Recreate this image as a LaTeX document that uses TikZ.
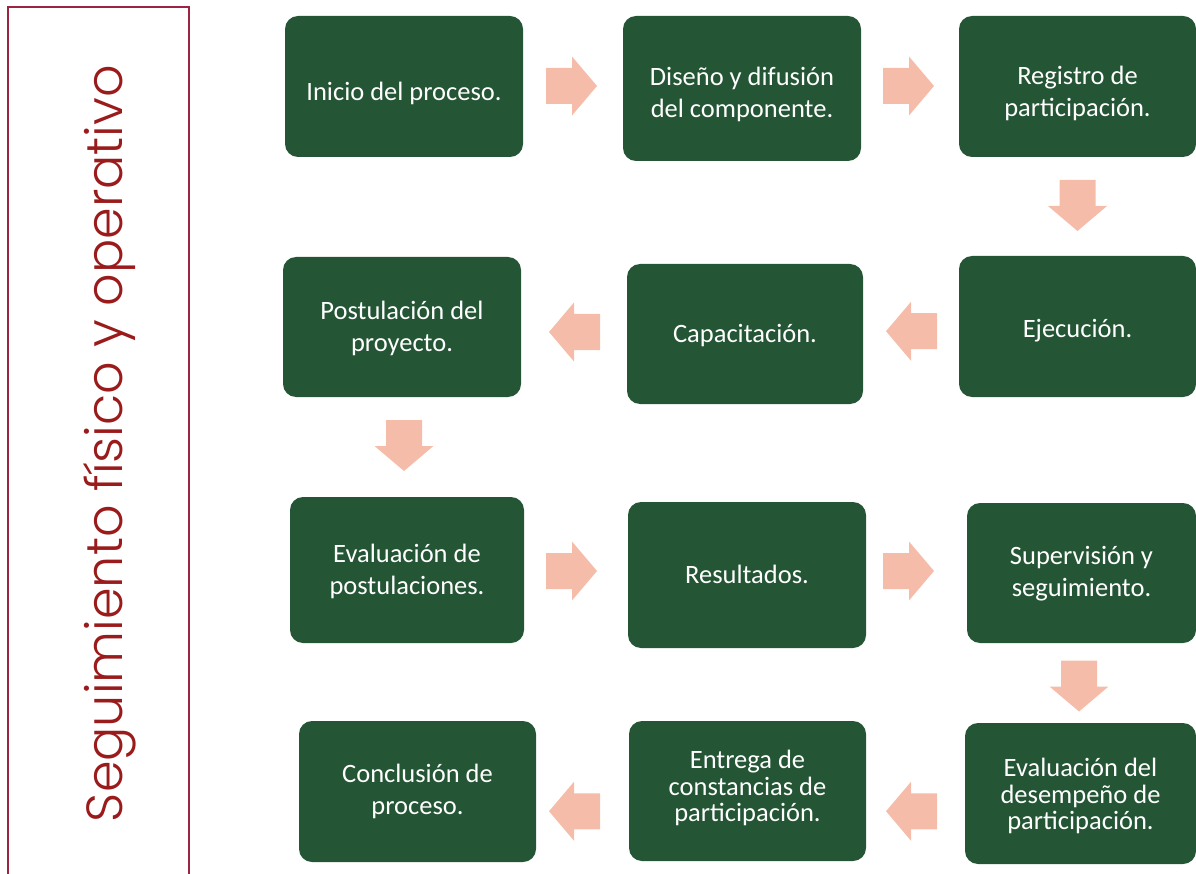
\documentclass[tikz,border=0pt]{standalone}
\usepackage{fontspec}
\setmainfont{Carlito}
\newfontfamily\titlefont{Poppins Light}
\usetikzlibrary{calc}
\definecolor{boxgreen}{HTML}{245535}
\definecolor{arrowpink}{HTML}{F5BDA9}
\definecolor{framered}{HTML}{9C2342}
\definecolor{titlered}{HTML}{9A1B1B}
\newcommand\boxtxt[2][0pt]{\raisebox{-#1}[\height][\depth]{\begin{tabular}{@{}c@{}}#2\end{tabular}}}
\begin{document}
\begin{tikzpicture}[x=1pt,y=-1pt,
  box/.style={fill=boxgreen, rounded corners=13pt, text=white, inner sep=0pt,
    font=\fontsize{26.5}{32}\selectfont},
  smallbox/.style={box, font=\fontsize{26.5}{26.5}\selectfont},
  blockarrow/.pic={\fill[arrowpink] (-25.5,-18) -- (0.5,-18) -- (0.5,-29.5) -- (25.5,0)
     -- (0.5,29.5) -- (0.5,18) -- (-25.5,18) -- cycle;}]
\useasboundingbox (0,0) rectangle (1196,874);
% left frame and title
\draw[framered, line width=2pt] (8,7) rectangle (189,900);
\node[rotate=90, text=titlered, inner sep=0pt] (title) at (110,443.5)
  {\resizebox{757pt}{!}{\titlefont Seguimiento físico y operativo}};
% boxes
\node[box, minimum width=238, minimum height=141] (b1) at (404,86.5) {\boxtxt[8pt]{Inicio del proceso.}};
\node[box, minimum width=238, minimum height=145] (b2) at (742,88.5) {\boxtxt[6.5pt]{Diseño y difusión\\del componente.}};
\node[box, minimum width=237, minimum height=141] (b3) at (1077.5,86.5) {\boxtxt[7.5pt]{Registro de\\participación.}};
\node[box, minimum width=238, minimum height=140] (b4) at (402,327) {\boxtxt[2pt]{Postulación del\\proyecto.}};
\node[box, minimum width=236, minimum height=140] (b5) at (745,334) {\boxtxt[2pt]{Capacitación.}};
\node[box, minimum width=237, minimum height=141] (b6) at (1077.5,326.5) {\boxtxt[5pt]{Ejecución.}};
\node[box, minimum width=234, minimum height=146] (b7) at (407,570) {\boxtxt[2pt]{Evaluación de\\postulaciones.}};
\node[box, minimum width=238, minimum height=146] (b8) at (747,575) {\boxtxt[2pt]{Resultados.}};
\node[box, minimum width=229, minimum height=140] (b9) at (1081.5,573) {\boxtxt[1.5pt]{Supervisión y\\seguimiento.}};
\node[box, minimum width=237, minimum height=141] (b10) at (417.5,791.5) {\boxtxt[0.5pt]{Conclusión de\\proceso.}};
\node[smallbox, minimum width=237, minimum height=140] (b11) at (747.5,791) {\boxtxt[-1pt]{Entrega de\\constancias de\\participación.}};
\node[smallbox, minimum width=231, minimum height=141] (b12) at (1080.5,793.5) {\boxtxt[4.5pt]{Evaluación del\\desempeño de\\participación.}};
% block arrows between boxes
\path ($(b1.east)!.5!(b2.west)$) ++(-1.5,-1.5) pic {blockarrow};
\path ($(b2.east)!.5!(b3.west)$) ++(-1.5,-1.5) pic {blockarrow};
\path ($(b3.south)!.5!(b6.north)$) ++(0,-1) pic[rotate=-90] {blockarrow};
\path ($(b6.west)!.5!(b5.east)$) ++(0.5,1) pic[rotate=180] {blockarrow};
\path ($(b5.west)!.5!(b4.east)$) ++(0.5,1.5) pic[rotate=180] {blockarrow};
\path ($(b4.south)!.5!(b7.north)$) ++(-0.5,-1.5) pic[rotate=-90] {blockarrow};
\path ($(b7.east)!.5!(b8.west)$) ++(-4.5,-1.5) pic {blockarrow};
\path ($(b8.east)!.5!(b9.west)$) ++(-8,-3) pic {blockarrow};
\path ($(b9.south)!.5!(b12.north)$) ++(-2,3) pic[rotate=-90] {blockarrow};
\path ($(b12.west)!.5!(b11.east)$) ++(-4,19) pic[rotate=180] {blockarrow};
\path ($(b11.west)!.5!(b10.east)$) ++(-8,20) pic[rotate=180] {blockarrow};
\end{tikzpicture}
\end{document}
